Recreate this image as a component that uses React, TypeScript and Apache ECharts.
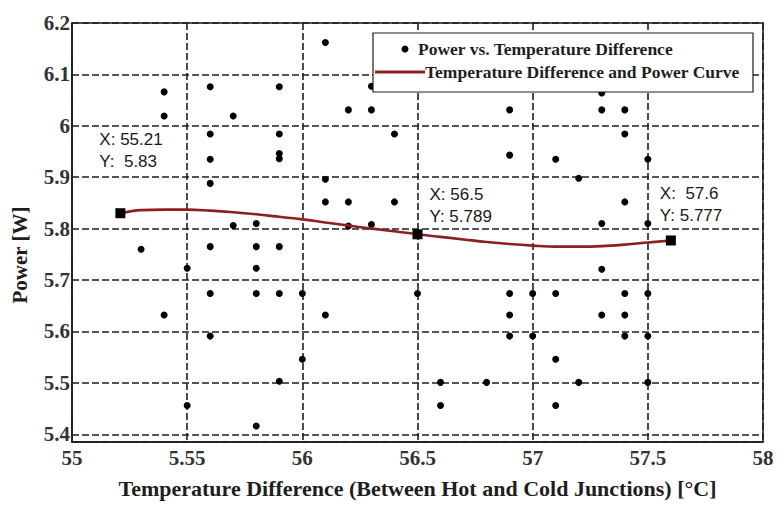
import React, { useEffect, useRef } from "react";
import * as echarts from "echarts";

// Measured temperature differences (°C) and the power readings (W) taken at each one
const tempLevels = [
  55.3, 55.4, 55.5, 55.6, 55.7, 55.8, 55.9, 56.0, 56.1, 56.2, 56.3, 56.4,
  56.5, 56.6, 56.8, 56.9, 57.0, 57.1, 57.2, 57.3, 57.4, 57.5,
];
const powerByTemp = [
  [5.76],
  [6.066, 6.019, 5.632],
  [5.723, 5.456],
  [6.076, 5.984, 5.935, 5.888, 5.765, 5.674, 5.591],
  [6.019, 5.806],
  [5.81, 5.765, 5.723, 5.674, 5.416],
  [6.076, 5.984, 5.946, 5.936, 5.765, 5.674, 5.503],
  [5.674, 5.546],
  [6.162, 5.896, 5.852, 5.632],
  [6.031, 5.852, 5.805],
  [6.077, 6.031, 5.808],
  [5.984, 5.852],
  [5.674],
  [5.501, 5.456],
  [5.501],
  [6.031, 5.943, 5.674, 5.632, 5.591],
  [5.674, 5.591],
  [5.935, 5.674, 5.546, 5.456],
  [5.898, 5.501],
  [6.064, 6.031, 5.81, 5.721, 5.632],
  [6.031, 5.984, 5.852, 5.674, 5.632, 5.591],
  [5.935, 5.81, 5.674, 5.591, 5.501],
];

// Fitted temperature difference / power curve
const curveTemp = [
  55.21, 55.3, 55.4, 55.5, 55.6, 55.7, 55.8, 55.9, 56.0, 56.1, 56.2, 56.3,
  56.4, 56.5, 56.6, 56.7, 56.8, 56.9, 57.0, 57.1, 57.2, 57.3, 57.4, 57.5, 57.6,
];
const curvePower = [
  5.83, 5.836, 5.837, 5.837, 5.835, 5.832, 5.828, 5.823, 5.818, 5.812, 5.806,
  5.8, 5.795, 5.789, 5.784, 5.779, 5.774, 5.77, 5.767, 5.765, 5.765, 5.766,
  5.769, 5.773, 5.777,
];

// Data tips on the curve
const tipTemp = [55.21, 56.5, 57.6];
const tipPower = [5.83, 5.789, 5.777];
const tipXPad = ["", "", " "];
const tipYPad = [" ", "", ""];
const tipOffsets: [number, number][] = [
  [-21, -85],
  [12, -51],
  [-11, -58],
];

// Axis tick labels
const xTickLabels = ["55", "5.55", "56", "56.5", "57", "57.5", "58"];

const SERIF = "Liberation Serif";
const SANS = "Liberation Sans";
const INK = "#1e1e1e";
const CURVE = "#8c2020";

export default function App() {
  const ref = useRef<HTMLDivElement>(null);

  useEffect(() => {
    if (!ref.current) return;
    const chart = echarts.init(ref.current, undefined, { renderer: "svg" });

    const scatterData: number[][] = [];
    tempLevels.forEach((t, i) => {
      powerByTemp[i].forEach((p) => scatterData.push([t, p]));
    });
    const curveData = curveTemp.map((t, i) => [t, curvePower[i]]);
    const tipData = tipTemp.map((t, i) => [t, tipPower[i]]);

    chart.setOption({
      animation: false,
      backgroundColor: "#fff",
      grid: {
        left: 72,
        right: 21,
        top: 23,
        bottom: 63,
        show: true,
        borderColor: INK,
        borderWidth: 1.5,
      },
      xAxis: {
        type: "value",
        min: 55,
        max: 58,
        interval: 0.5,
        axisLine: { show: true, lineStyle: { color: INK, width: 1.5 } },
        axisTick: { show: false },
        axisLabel: {
          fontFamily: SERIF,
          fontWeight: "bold",
          fontSize: 21,
          color: "#333",
          margin: 5,
          formatter: (v: number) => xTickLabels[Math.round((v - 55) / 0.5)] ?? "",
        },
        splitLine: { show: true, lineStyle: { type: [7, 3], color: INK, width: 1.6 } },
        name: "Temperature Difference (Between Hot and Cold Junctions) [°C]",
        nameLocation: "middle",
        nameGap: 35,
        nameTextStyle: { fontFamily: SERIF, fontWeight: "bold", fontSize: 22, color: INK },
      },
      yAxis: {
        type: "value",
        min: 5.385,
        max: 6.2,
        splitNumber: 8,
        minInterval: 0.1,
        maxInterval: 0.1,
        axisLine: { show: true, lineStyle: { color: INK, width: 1.5 } },
        axisTick: { show: false },
        axisLabel: {
          fontFamily: SERIF,
          fontWeight: "bold",
          fontSize: 21,
          color: "#333",
          margin: 2,
          formatter: (v: number) =>
            Math.abs(v * 10 - Math.round(v * 10)) < 1e-6 ? String(Math.round(v * 10) / 10) : "",
        },
        splitLine: { show: true, lineStyle: { type: [7, 3], color: INK, width: 1.6 } },
      },
      series: [
        {
          name: "Power vs. Temperature Difference",
          type: "scatter",
          data: scatterData,
          symbol: "circle",
          symbolSize: 7,
          itemStyle: { color: "#000", opacity: 1 },
          z: 3,
        },
        {
          name: "Temperature Difference and Power Curve",
          type: "line",
          data: curveData,
          smooth: 0.4,
          showSymbol: false,
          lineStyle: { color: CURVE, width: 2.6 },
          z: 4,
        },
        {
          name: "Data tips",
          type: "scatter",
          data: tipData,
          symbol: "rect",
          symbolSize: 10,
          itemStyle: { color: "#000", opacity: 1 },
          z: 5,
        },
      ],
    });

    // Data tip texts, placed next to their markers through the chart's own scales
    const tipTexts = tipTemp.map((t, i) => {
      const [px, py] = chart.convertToPixel({ gridIndex: 0 }, [t, tipPower[i]]) as number[];
      return {
        type: "text",
        z: 50,
        x: px + tipOffsets[i][0],
        y: py + tipOffsets[i][1],
        style: {
          text: `X: ${tipXPad[i]}${t}\nY: ${tipYPad[i]}${tipPower[i]}`,
          font: `17px ${SANS}`,
          lineHeight: 22,
          fill: "#1a1a1a",
          verticalAlign: "top",
        },
      };
    });

    chart.setOption({
      graphic: [
        {
          type: "text",
          x: 20,
          y: 255,
          rotation: Math.PI / 2,
          style: {
            text: "Power [W]",
            font: `bold 21px ${SERIF}`,
            fill: INK,
            align: "center",
            verticalAlign: "middle",
          },
        },
        ...tipTexts,
        {
          type: "rect",
          z: 100,
          shape: { x: 373, y: 33, width: 380, height: 59 },
          style: { fill: "#fff", stroke: INK, lineWidth: 1.2 },
        },
        {
          type: "circle",
          z: 101,
          shape: { cx: 405, cy: 49, r: 3.5 },
          style: { fill: "#000" },
        },
        {
          type: "text",
          z: 101,
          x: 418,
          y: 49,
          style: {
            text: "Power vs. Temperature Difference",
            font: `bold 17.5px ${SERIF}`,
            fill: INK,
            verticalAlign: "middle",
          },
        },
        {
          type: "line",
          z: 101,
          shape: { x1: 375, y1: 72, x2: 425, y2: 72 },
          style: { stroke: CURVE, lineWidth: 3 },
        },
        {
          type: "text",
          z: 101,
          x: 425,
          y: 72,
          style: {
            text: "Temperature Difference and Power Curve",
            font: `bold 17.5px ${SERIF}`,
            fill: INK,
            verticalAlign: "middle",
          },
        },
      ],
    });

    return () => chart.dispose();
  }, []);

  return (
    <div
      ref={ref}
      style={{ position: "fixed", left: 0, top: 0, width: 784, height: 505 }}
    />
  );
}
